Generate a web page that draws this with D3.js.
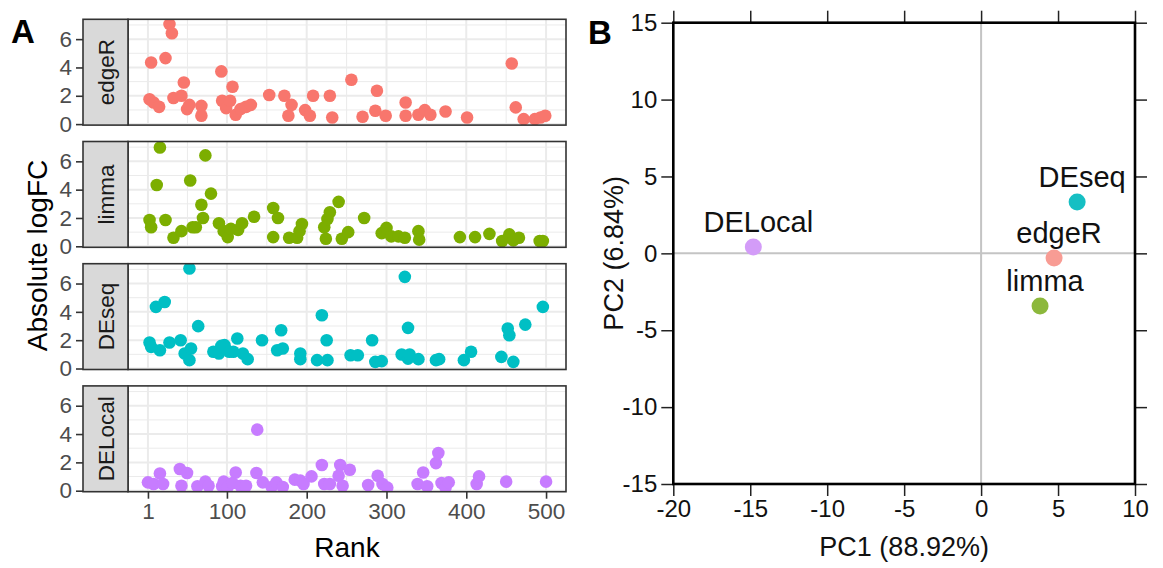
<!DOCTYPE html>
<html>
<head>
<meta charset="utf-8">
<script src="https://cdn.jsdelivr.net/npm/d3@7"></script>
<style>
  body { margin: 0; background: #fff; }
  svg { display: block; font-family: "Liberation Sans", Arial, sans-serif; }
</style>
</head>
<body>
<svg id="chart"></svg>
<script>
// ---- data ----
const methods = ["edgeR", "limma", "DEseq", "DELocal"];
const colors = ["#F8766D", "#7CAE00", "#00BFC4", "#C77CFF"];
const pcaColors = ["#F89C94", "#8CB83C", "#16BFC3", "#D39CF8"];

// [rank, absolute logFC]
const edgeR = [[3,1.76],[5,4.35],[8,1.53],[15,1.22],[23,4.66],[28,7.06],[31,6.42],[33,1.84],[43,2.0],[46,2.94],[50,1.06],[53,1.36],[68,1.29],[68,0.59],[93,3.72],[94,1.65],[99,1.13],[104,1.65],[107,2.64],[111,0.66],[117,1.06],[124,1.22],[130,1.36],[153,2.05],[172,2.0],[177,0.59],[181,1.36],[198,0.99],[204,0.59],[208,2.0],[229,2.0],[232,0.47],[256,3.13],[270,0.52],[286,0.94],[288,2.35],[299,0.59],[324,1.53],[324,0.59],[340,0.66],[348,0.99],[355,0.66],[374,0.89],[401,0.47],[457,4.28],[462,1.18],[472,0.35],[486,0.35],[493,0.47],[499,0.59]];
const limma = [[3,1.86],[5,1.35],[12,4.33],[16,6.98],[23,1.86],[33,0.6],[43,1.07],[54,4.65],[57,1.35],[61,1.35],[68,2.93],[70,2.0],[73,6.42],[80,3.72],[90,1.63],[96,1.07],[101,0.65],[105,1.23],[114,1.16],[119,1.63],[134,2.09],[158,2.7],[158,0.65],[164,2.0],[178,0.6],[188,0.6],[191,1.07],[194,1.58],[222,1.35],[224,0.53],[226,1.93],[229,2.4],[240,3.14],[244,0.53],[252,1.0],[272,2.0],[294,0.93],[300,1.3],[306,0.7],[315,0.7],[323,0.6],[340,1.07],[341,0.47],[392,0.65],[411,0.65],[429,0.88],[445,0.37],[454,0.84],[459,0.42],[466,0.6],[492,0.37],[496,0.37]];
const DEseq = [[3,1.84],[5,1.53],[11,4.35],[16,1.29],[22,4.7],[28,1.84],[42,2.0],[47,1.06],[53,7.06],[53,0.59],[55,1.41],[64,2.99],[83,1.18],[90,1.06],[93,1.6],[97,1.65],[103,1.18],[108,1.18],[113,2.12],[120,1.06],[126,0.66],[144,2.0],[163,1.29],[168,2.7],[170,1.41],[192,1.06],[192,0.66],[213,0.59],[219,3.76],[225,2.0],[226,0.59],[255,0.94],[264,0.94],[282,2.0],[286,0.47],[294,0.52],[319,0.99],[323,6.47],[327,2.87],[327,0.7],[329,0.99],[340,0.66],[362,0.59],[366,0.66],[397,0.59],[406,1.18],[444,0.82],[452,2.82],[454,2.35],[459,0.47],[474,3.1],[496,4.35]];
const DELocal = [[1,0.59],[8,0.47],[16,1.22],[20,0.47],[41,1.53],[43,0.35],[50,1.25],[63,0.31],[73,0.64],[77,0.35],[94,0.31],[96,0.64],[101,0.26],[107,0.54],[111,1.29],[117,0.35],[124,0.35],[137,1.25],[138,4.31],[145,0.59],[156,0.26],[162,0.59],[170,0.26],[185,0.78],[192,0.71],[196,0.47],[206,1.01],[219,1.81],[222,0.47],[229,0.47],[240,1.06],[242,1.81],[245,0.35],[254,1.48],[277,0.4],[289,1.06],[295,0.47],[301,0.22],[339,0.47],[346,1.29],[351,0.31],[362,1.95],[365,2.66],[369,0.54],[374,0.22],[378,0.59],[413,0.47],[416,1.01],[450,0.64],[500,0.64]];
const rankData = [edgeR, limma, DEseq, DELocal];

const rankTicks = [1, 100, 200, 300, 400, 500];
const logfcTicks = [0, 2, 4, 6];

// PCA scores: [PC1, PC2]
const pca = [[4.74, -0.3], [3.83, -3.42], [6.24, 3.34], [-14.8, 0.42]];
const pcTicksX = [-20, -15, -10, -5, 0, 5, 10];
const pcTicksY = [-15, -10, -5, 0, 5, 10, 15];

const svg = d3.select("#chart").attr("width", 1163).attr("height", 568);

// ================= panel A =================
const stripL = 83, panelL = 128, panelR = 566;
const panelTops = [19.3, 141.5, 263.7, 385.9], panelH = 105.8;

const x = d3.scaleLinear().domain([-24, 525]).range([panelL, panelR]);
const xMinor = [50.5, 150, 250, 350, 450];

methods.forEach(function(m, i) {
    const top = panelTops[i], bot = top + panelH;
    const y = d3.scaleLinear().domain([-0.07, 7.4]).range([bot, top]);
    const g = svg.append("g");

    // panel background + grid
    g.append("rect").attr("x", panelL).attr("y", top)
        .attr("width", panelR - panelL).attr("height", panelH).attr("fill", "#fff");
    g.selectAll(".yminor").data([1, 3, 5, 7]).enter().append("line")
        .attr("x1", panelL).attr("x2", panelR)
        .attr("y1", d => y(d)).attr("y2", d => y(d))
        .attr("stroke", "#EBEBEB").attr("stroke-width", 1);
    g.selectAll(".xminor").data(xMinor).enter().append("line")
        .attr("x1", d => x(d)).attr("x2", d => x(d))
        .attr("y1", top).attr("y2", bot)
        .attr("stroke", "#EBEBEB").attr("stroke-width", 1);
    g.selectAll(".ymajor").data(logfcTicks).enter().append("line")
        .attr("x1", panelL).attr("x2", panelR)
        .attr("y1", d => y(d)).attr("y2", d => y(d))
        .attr("stroke", "#EBEBEB").attr("stroke-width", 2);
    g.selectAll(".xmajor").data(rankTicks).enter().append("line")
        .attr("x1", d => x(d)).attr("x2", d => x(d))
        .attr("y1", top).attr("y2", bot)
        .attr("stroke", "#EBEBEB").attr("stroke-width", 2);

    // points
    const clipId = "clip" + i;
    svg.append("clipPath").attr("id", clipId).append("rect")
        .attr("x", panelL).attr("y", top).attr("width", panelR - panelL).attr("height", panelH);
    g.append("g").attr("clip-path", "url(#" + clipId + ")")
        .selectAll("circle").data(rankData[i]).enter().append("circle")
        .attr("cx", d => x(d[0])).attr("cy", d => y(d[1]))
        .attr("r", 6.3).attr("fill", colors[i]);

    // border
    g.append("rect").attr("x", panelL).attr("y", top)
        .attr("width", panelR - panelL).attr("height", panelH)
        .attr("fill", "none").attr("stroke", "#333").attr("stroke-width", 1.6);

    // strip
    g.append("rect").attr("x", stripL).attr("y", top)
        .attr("width", panelL - stripL).attr("height", panelH)
        .attr("fill", "#D9D9D9").attr("stroke", "#333").attr("stroke-width", 1.6);
    g.append("text")
        .attr("transform", "translate(" + ((stripL + panelL) / 2 + 8) + "," + (top + panelH / 2) + ") rotate(-90)")
        .attr("text-anchor", "middle").attr("font-size", 22.5).attr("fill", "#1A1A1A")
        .text(m);

    // y axis
    const ax = g.append("g").attr("transform", "translate(" + stripL + ",0)")
        .call(d3.axisLeft(y).tickValues(logfcTicks).tickSize(7).tickSizeOuter(0));
    ax.select(".domain").remove();
    ax.selectAll("line").attr("stroke", "#333").attr("stroke-width", 1.6);
    ax.selectAll("text").attr("font-size", 22.5).attr("fill", "#4D4D4D")
        .attr("x", -11).attr("font-family", null);

    if (i === 3) {
        const bx = g.append("g").attr("transform", "translate(0," + bot + ")")
            .call(d3.axisBottom(x).tickValues(rankTicks).tickSize(7).tickSizeOuter(0));
        bx.select(".domain").remove();
        bx.selectAll("line").attr("stroke", "#333").attr("stroke-width", 1.6);
        bx.selectAll("text").attr("font-size", 22.5).attr("fill", "#4D4D4D")
            .attr("y", 11).attr("font-family", null);
    }
});

svg.append("text").attr("x", (panelL + panelR) / 2).attr("y", 557)
    .attr("text-anchor", "middle").attr("font-size", 28).text("Rank");
svg.append("text")
    .attr("transform", "translate(47," + ((panelTops[0] + panelTops[3] + panelH) / 2) + ") rotate(-90)")
    .attr("text-anchor", "middle").attr("font-size", 28).text("Absolute logFC");
svg.append("text").attr("x", 11).attr("y", 43)
    .attr("font-size", 33).attr("font-weight", "bold").text("A");

// ================= panel B =================
const bx0 = 673.3, bx1 = 1135, by0 = 22.7, by1 = 484;
const px = d3.scaleLinear().domain([-20, 10]).range([bx0, bx1]);
const py = d3.scaleLinear().domain([-15, 15]).range([by1, by0]);

svg.append("line").attr("x1", px(0)).attr("x2", px(0)).attr("y1", by0).attr("y2", by1)
    .attr("stroke", "#C4C4C4").attr("stroke-width", 2);
svg.append("line").attr("x1", bx0).attr("x2", bx1).attr("y1", py(0)).attr("y2", py(0))
    .attr("stroke", "#C4C4C4").attr("stroke-width", 2);

function styleAxis(a, showText) {
    a.select(".domain").remove();
    a.selectAll("line").attr("stroke", "#222").attr("stroke-width", 1.5);
    if (!showText) a.selectAll("text").remove();
    else a.selectAll("text").attr("font-size", 24).attr("fill", "#111").attr("font-family", null);
}
const left = svg.append("g").attr("transform", "translate(" + bx0 + ",0)")
    .call(d3.axisLeft(py).tickValues(pcTicksY).tickSize(12).tickFormat(d3.format("d")));
styleAxis(left, true);
left.selectAll("text").attr("x", -16);
const bottom = svg.append("g").attr("transform", "translate(0," + by1 + ")")
    .call(d3.axisBottom(px).tickValues(pcTicksX).tickSize(12).tickFormat(d3.format("d")));
styleAxis(bottom, true);
bottom.selectAll("text").attr("y", 16);
styleAxis(svg.append("g").attr("transform", "translate(0," + by0 + ")")
    .call(d3.axisTop(px).tickValues(pcTicksX).tickSize(12)), false);
styleAxis(svg.append("g").attr("transform", "translate(" + bx1 + ",0)")
    .call(d3.axisRight(py).tickValues(pcTicksY).tickSize(12)), false);

// minus signs as hyphen like the original
svg.selectAll("text").each(function() {
    const t = d3.select(this);
    t.text(t.text().replace("\u2212", "-"));
});

svg.append("rect").attr("x", bx0).attr("y", by0)
    .attr("width", bx1 - bx0).attr("height", by1 - by0)
    .attr("fill", "none").attr("stroke", "#000").attr("stroke-width", 2.6);

svg.selectAll(".pca").data(pca).enter().append("circle")
    .attr("cx", d => px(d[0])).attr("cy", d => py(d[1]))
    .attr("r", 8.5).attr("fill", (d, i) => pcaColors[i]);
svg.selectAll(".pcalab").data(pca).enter().append("text")
    .attr("x", d => px(d[0]) + 5).attr("y", d => py(d[1]) - 15)
    .attr("text-anchor", "middle").attr("font-size", 29).attr("fill", "#111")
    .text((d, i) => methods[i]);

svg.append("text").attr("x", (bx0 + bx1) / 2).attr("y", 556)
    .attr("text-anchor", "middle").attr("font-size", 27).attr("fill", "#111").text("PC1 (88.92%)");
svg.append("text")
    .attr("transform", "translate(623," + ((by0 + by1) / 2) + ") rotate(-90)")
    .attr("text-anchor", "middle").attr("font-size", 27).attr("fill", "#111").text("PC2 (6.84%)");
svg.append("text").attr("x", 588).attr("y", 44)
    .attr("font-size", 33).attr("font-weight", "bold").text("B");
</script>
</body>
</html>
